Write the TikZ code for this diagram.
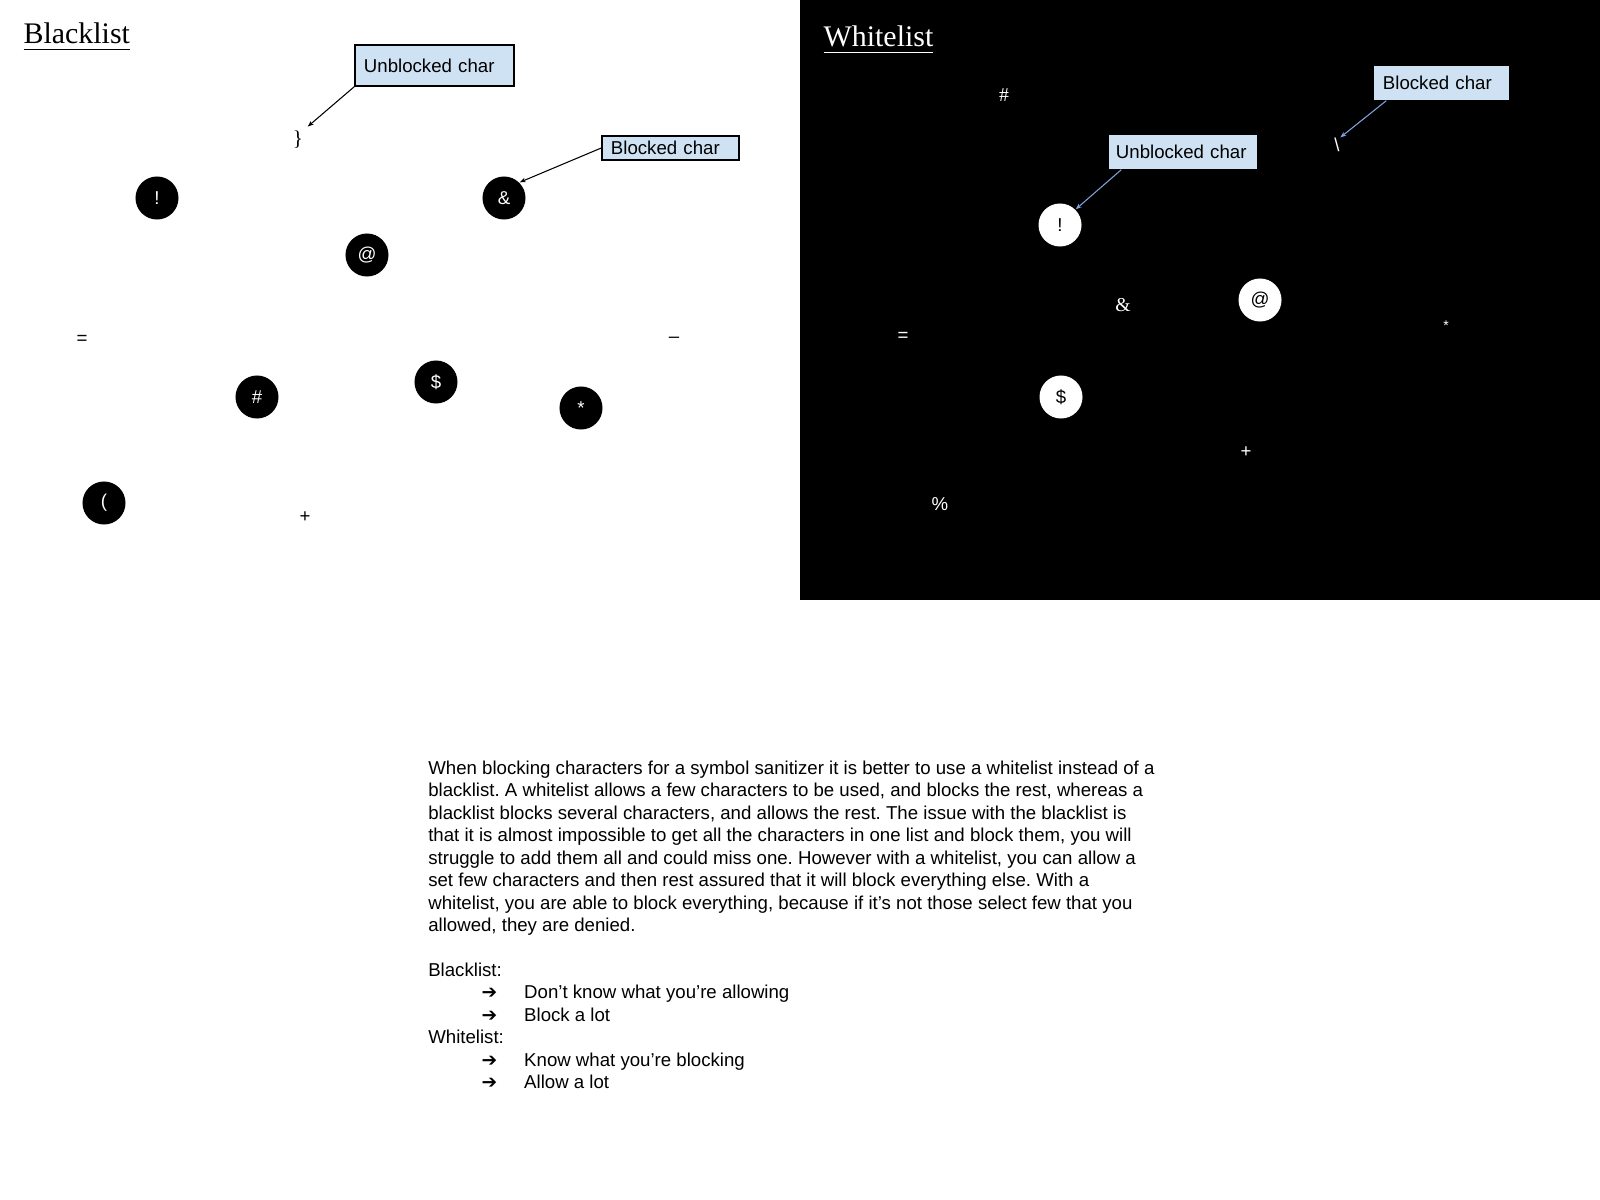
\documentclass[tikz,border=0pt]{standalone}
\usepackage{fontspec}
\setmainfont{Liberation Sans}
\newfontfamily\lserif{Liberation Serif}
\newfontfamily\dvsans{DejaVu Sans}
\usetikzlibrary{arrows.meta}
\frenchspacing

\definecolor{boxblue}{HTML}{CFE2F3}
\definecolor{arrowblue}{HTML}{7EA2DE}

\tikzset{
  txt/.style={font=\fontsize{5.3pt}{6.4pt}\selectfont, inner sep=0pt},
  ttl/.style={font=\lserif\fontsize{8.5pt}{10pt}\selectfont, inner sep=0pt, anchor=base west},
  blkdot/.style={circle, fill=black, text=white, minimum size=0.43cm, inner sep=0pt, txt},
  whtdot/.style={circle, fill=white, text=black, minimum size=0.43cm, inner sep=0pt, txt},
  lbl/.style={fill=boxblue, txt, align=left, inner xsep=0.09cm, minimum height=#1},
  ptr/.style={-{Stealth[length=0.6mm,width=0.45mm]}, line width=0.3pt},
}

\begin{document}
\begin{tikzpicture}[x=0.01cm, y=-0.01cm]
        % Page and the black half
        \fill[white] (0,0) rectangle (1600,1200);
        \fill[black] (800,0) rectangle (1600,600);
        \useasboundingbox (0,0) rectangle (1600,1200);

        % Blacklist side
        \node[ttl] (bTitle) at (23,44) {\underline{Blacklist}};
        \node[lbl=0.41cm, draw=black, line width=0.4pt, text width=1.41cm] (bUnb) at (434.5,65.5) {Unblocked char};
        \node[lbl=0.24cm, draw=black, line width=0.4pt, text width=1.19cm] (bBlk) at (670.5,148) {Blocked char};

        \node[font=\lserif\fontsize{6pt}{7pt}\selectfont, inner sep=0.04cm] (bBrace) at (298,140) {\}};
        \node[blkdot] (bExc) at (157,198) {!};
        \node[blkdot] (bAmp) at (504,198) {\&};
        \node[blkdot] (bAt) at (367,255) {@};
        \node[txt] (bEq) at (82,340) {=};
        \node[txt] (bDash) at (674,340) {–};
        \node[blkdot] (bHash) at (257,397) {\#};
        \node[blkdot] (bDol) at (436,382) {\$};
        \node[blkdot] (bAst) at (581,408) {*};
        \node[blkdot] (bPar) at (104,503) {(};
        \node[txt] (bPlus) at (305,517) {+};

        \draw[ptr] (bUnb.south west) -- (bBrace.north east); % unblocked
        \draw[ptr] (bBlk.west) -- (bAmp.45); % blocked

        % Whitelist side
        \node[ttl, text=white] (wTitle) at (823,47) {\underline{Whitelist}};
        \node[lbl=0.34cm, text width=1.17cm] (wBlk) at (1441.5,83) {Blocked char};
        \node[lbl=0.34cm, inner xsep=0.07cm, text width=1.34cm] (wUnb) at (1183,152) {Unblocked char};

        \node[txt, text=white, font=\lserif\fontsize{5.6pt}{7pt}\selectfont] (wHash) at (1004,95) {\#};
        \node[txt, text=white] (wBsl) at (1337,145) {\textbackslash};
        \node[whtdot] (wExc) at (1060,225) {!};
        \node[txt, text=white, font=\lserif\fontsize{5.6pt}{7pt}\selectfont] (wAmp) at (1123,305) {\&};
        \node[whtdot] (wAt) at (1260,300) {@};
        \node[txt, text=white] (wEq) at (903,337) {=};
        \node[txt, text=white, font=\fontsize{4pt}{5pt}\selectfont] (wAst) at (1446,326) {*};
        \node[whtdot] (wDol) at (1061,397) {\$};
        \node[txt, text=white] (wPlus) at (1246,452) {+};
        \node[txt, text=white] (wPct) at (940,504) {\%};

        \draw[ptr, arrowblue] ([xshift=0.13cm]wBlk.south west) -- (wBsl.north east); % blocked
        \draw[ptr, arrowblue] ([xshift=0.13cm]wUnb.south west) -- (wExc.45); % unblocked

        % Explanation text
        \foreach \t [count=\i] in {
            {When blocking characters for a symbol sanitizer it is better to use a whitelist instead of a},
            {blacklist. A whitelist allows a few characters to be used, and blocks the rest, whereas a},
            {blacklist blocks several characters, and allows the rest. The issue with the blacklist is},
            {that it is almost impossible to get all the characters in one list and block them, you will},
            {struggle to add them all and could miss one. However with a whitelist, you can allow a},
            {set few characters and then rest assured that it will block everything else. With a},
            {whitelist, you are able to block everything, because if it’s not those select few that you},
            {allowed, they are denied.}}
            \node[txt, anchor=base west] (p\i) at (427.6,{774.3+(\i-1)*22.45}) {\t};

        \node[txt, anchor=base west] (hBlk) at (427.6,976.35) {Blacklist:};
        \node[txt, anchor=base west] (hWht) at (427.6,1043.7) {Whitelist:};
        \foreach \yy/\t [count=\k] in {998.8/{Don’t know what you’re allowing}, 1021.25/{Block a lot},
                                       1066.15/{Know what you’re blocking}, 1088.6/{Allow a lot}} {
            \node[txt, anchor=base west] (a\k) at (481,\yy) {\dvsans\bfseries ➔};
            \node[txt, anchor=base west] (i\k) at (523.5,\yy) {\t};
        }
\end{tikzpicture}
\end{document}
